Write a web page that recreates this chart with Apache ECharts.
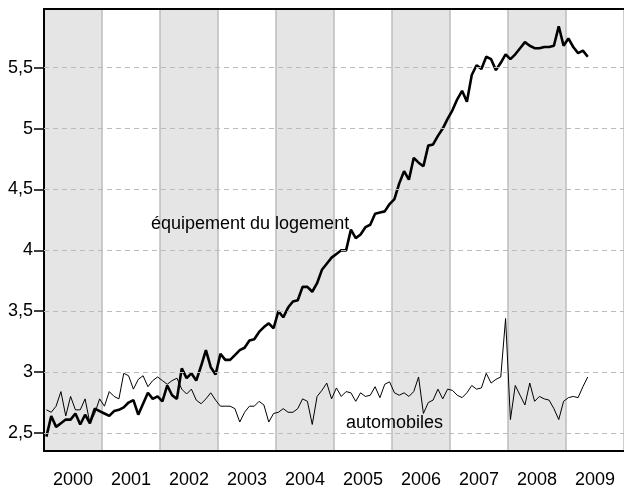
<!DOCTYPE html>
<html>
<head>
<meta charset="utf-8">
<script src="https://cdn.jsdelivr.net/npm/echarts@6/dist/echarts.min.js"></script>
<style>
html, body { margin: 0; padding: 0; background: #fff; }
#main { width: 624px; height: 491px; }
</style>
</head>
<body>
<div id="main"></div>
<script>
// years shown under the axis, one label per band
var years = ['2000', '2001', '2002', '2003', '2004', '2005', '2006', '2007', '2008', '2009'];
var yTicks = [2.5, 3, 3.5, 4, 4.5, 5, 5.5];

// monthly values, jan 2000 -> may 2009
var logement = [
  2.47, 2.64, 2.55, 2.58, 2.61, 2.61, 2.66, 2.57, 2.65, 2.58, 2.70, 2.68,
  2.66, 2.64, 2.68, 2.69, 2.71, 2.75, 2.77, 2.65, 2.74, 2.83, 2.78, 2.80,
  2.76, 2.89, 2.81, 2.78, 3.03, 2.95, 2.99, 2.93, 3.05, 3.18, 3.04, 2.98,
  3.15, 3.10, 3.10, 3.14, 3.18, 3.20, 3.26, 3.27, 3.33, 3.37, 3.40, 3.36,
  3.50, 3.45, 3.53, 3.58, 3.59, 3.70, 3.70, 3.66, 3.73, 3.84, 3.89, 3.94,
  3.97, 4.00, 4.00, 4.17, 4.10, 4.13, 4.19, 4.21, 4.30, 4.31, 4.32, 4.38,
  4.42, 4.55, 4.65, 4.58, 4.76, 4.72, 4.69, 4.86, 4.87, 4.94, 5.00, 5.08,
  5.15, 5.24, 5.31, 5.22, 5.44, 5.52, 5.49, 5.59, 5.57, 5.48, 5.54, 5.61,
  5.57, 5.61, 5.66, 5.71, 5.68, 5.66, 5.66, 5.67, 5.67, 5.68, 5.84, 5.68,
  5.74, 5.67, 5.62, 5.64, 5.59
];
var automobiles = [
  2.69, 2.67, 2.72, 2.84, 2.64, 2.80, 2.69, 2.69, 2.78, 2.58, 2.66, 2.78,
  2.72, 2.84, 2.80, 2.78, 2.99, 2.97, 2.86, 2.94, 2.97, 2.88, 2.93, 2.96,
  2.93, 2.90, 2.93, 2.95, 2.86, 2.82, 2.86, 2.77, 2.74, 2.78, 2.83, 2.77,
  2.72, 2.72, 2.72, 2.70, 2.59, 2.67, 2.72, 2.72, 2.76, 2.73, 2.59, 2.66,
  2.67, 2.70, 2.67, 2.67, 2.70, 2.78, 2.76, 2.57, 2.80, 2.85, 2.91, 2.78,
  2.87, 2.80, 2.84, 2.83, 2.76, 2.83, 2.80, 2.81, 2.88, 2.79, 2.90, 2.92,
  2.83, 2.81, 2.83, 2.80, 2.84, 2.96, 2.66, 2.75, 2.77, 2.86, 2.78, 2.86,
  2.85, 2.81, 2.79, 2.83, 2.89, 2.86, 2.87, 2.99, 2.91, 2.94, 2.96, 3.44,
  2.61, 2.89, 2.81, 2.73, 2.91, 2.76, 2.80, 2.78, 2.77, 2.70, 2.61, 2.76,
  2.79, 2.80, 2.79, 2.88, 2.96
];
var startYear = 2000;

var font = 'Liberation Sans, Arial, sans-serif';

// month i sits in the middle of its month
function toPoints(values) {
  return values.map(function (v, i) {
    return [startYear + (i + 0.5) / 12, v];
  });
}

var myChart = echarts.init(document.getElementById('main'));

var option = {
  animation: false,
  backgroundColor: '#fff',
  grid: {
    left: 44,
    top: 9,
    right: -7,
    bottom: 40
  },
  xAxis: [
    {
      type: 'value',
      min: 2000,
      max: 2010,
      interval: 1,
      axisLine: { show: true, lineStyle: { color: '#000', width: 2 } },
      axisTick: { show: false },
      axisLabel: { show: false },
      splitLine: { show: true, lineStyle: { color: '#bdbdbd', width: 1.5 } },
      splitArea: { show: true, areaStyle: { color: ['#e5e5e5', '#ffffff'] } }
    },
    {
      type: 'category',
      data: years,
      position: 'bottom',
      boundaryGap: true,
      axisLine: { show: false },
      axisTick: { show: false },
      splitLine: { show: false },
      axisLabel: { margin: 20, fontSize: 18, color: '#000', fontFamily: font }
    },
    {
      // top frame line
      type: 'value',
      position: 'top',
      min: 2000,
      max: 2010,
      axisLine: { show: true, lineStyle: { color: '#000', width: 2 } },
      axisTick: { show: false },
      axisLabel: { show: false },
      splitLine: { show: false }
    }
  ],
  yAxis: {
    type: 'value',
    min: 2.352,
    max: 5.982,
    axisLine: { show: true, lineStyle: { color: '#000', width: 2 } },
    axisTick: {
      show: true,
      length: 10,
      customValues: yTicks,
      lineStyle: { color: '#000', width: 1.5 }
    },
    axisLabel: {
      customValues: yTicks,
      margin: 11,
      fontSize: 18,
      color: '#000',
      fontFamily: font,
      formatter: function (v) {
        return String(v).replace('.', ',');
      }
    },
    splitLine: { show: false }
  },
  graphic: {
    elements: [
      {
        type: 'text',
        x: 151,
        y: 215,
        z: 100,
        style: {
          text: 'équipement du logement',
          fontSize: 18,
          fontFamily: font,
          fill: '#000'
        }
      },
      {
        type: 'text',
        x: 346,
        y: 414,
        z: 100,
        style: {
          text: 'automobiles',
          fontSize: 18,
          fontFamily: font,
          fill: '#000'
        }
      }
    ]
  },
  series: [
    {
      // dashed horizontal grid
      type: 'line',
      data: [],
      z: 1,
      markLine: {
        silent: true,
        symbol: 'none',
        label: { show: false },
        lineStyle: { color: '#bbbbbb', type: [5, 4], width: 1 },
        data: yTicks.map(function (v) { return { yAxis: v }; })
      }
    },
    {
      name: 'automobiles',
      type: 'line',
      data: toPoints(automobiles),
      symbol: 'none',
      z: 3,
      lineStyle: { color: '#000', width: 1 }
    },
    {
      name: 'équipement du logement',
      type: 'line',
      data: toPoints(logement),
      symbol: 'none',
      z: 4,
      lineStyle: { color: '#000', width: 2.6 }
    }
  ]
};

myChart.setOption(option);
</script>
</body>
</html>
